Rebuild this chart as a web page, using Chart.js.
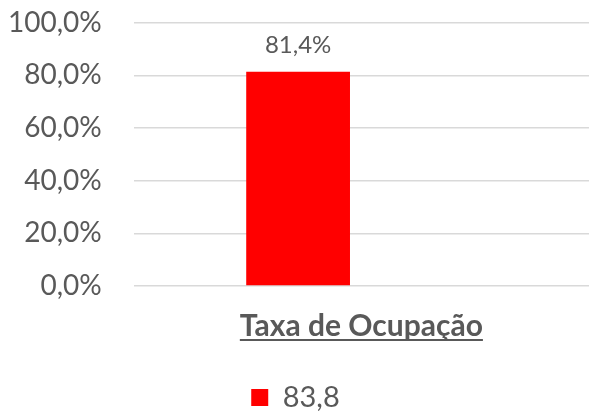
<!DOCTYPE html>
<html>
<head>
<meta charset="utf-8">
<script src="https://cdn.jsdelivr.net/npm/chart.js@4"></script>
<style>
  html, body { margin: 0; padding: 0; background: #fff; }
  #wrap { width: 589px; height: 412px; }
</style>
</head>
<body>
<div id="wrap"><canvas id="myChart"></canvas></div>
<script>
const CATEGORIES = ['Taxa de Ocupação'];
const SERIES_NAMES = ['83,8', ''];
const SERIES_VALUES = [81.4, null];
const Y_TICKS = [0, 20, 40, 60, 80, 100];

const TEXT_COLOR = '#595959';
const FONT = 'Lato, "Open Sans", sans-serif';

const fmt = v => v.toFixed(1).replace('.', ',');

// value labels above bars + underlined category label
const BAR_LABELS = {
  id: 'barLabels',
  afterDatasetsDraw(chart) {
    const { ctx } = chart;
    ctx.save();
    ctx.fillStyle = TEXT_COLOR;
    ctx.font = `24px ${FONT}`;
    ctx.textAlign = 'center';
    ctx.textBaseline = 'middle';
    chart.data.datasets.forEach((ds, i) => {
      chart.getDatasetMeta(i).data.forEach((bar, j) => {
        const v = ds.data[j];
        if (v == null) return;
        ctx.fillText(fmt(v) + '%', bar.x, bar.y - 26);
      });
    });

    // category label with underline
    const xs = chart.scales.x;
    ctx.font = `bold 30px ${FONT}`;
    ctx.textBaseline = 'alphabetic';
    CATEGORIES.forEach((c, i) => {
      const x = xs.getPixelForValue(i);
      const y = chart.chartArea.bottom + 50;
      ctx.fillText(c, x, y);
      const w = ctx.measureText(c).width;
      ctx.fillRect(x - w / 2, y + 3, w, 2);
    });
    ctx.restore();
  }
};

const CONFIG = {
  type: 'bar',
  data: {
    labels: CATEGORIES,
    datasets: [{
      label: SERIES_NAMES[0],
      data: [SERIES_VALUES[0]],
      backgroundColor: '#ff0000'
    }, {
      label: SERIES_NAMES[1],
      data: [SERIES_VALUES[1]],
      backgroundColor: '#ffffff'
    }]
  },
  options: {
    responsive: true,
    maintainAspectRatio: false,
    animation: false,
    categoryPercentage: 0.556,
    barPercentage: 0.82,
    layout: { padding: { left: 2, right: 0, top: 4, bottom: -10 } },
    plugins: {
      tooltip: { enabled: false },
      legend: {
        position: 'bottom',
        labels: {
          filter: item => item.text !== '',
          boxWidth: 17,
          boxHeight: 17,
          color: TEXT_COLOR,
          font: { family: FONT, size: 29 },
          padding: 8
        }
      }
    },
    scales: {
      y: {
        min: 0,
        max: 100,
        afterBuildTicks: axis => { axis.ticks = Y_TICKS.map(v => ({ value: v })); },
        border: { display: false },
        grid: { color: '#d9d9d9', lineWidth: 1.5, tickLength: 26, tickColor: 'rgba(0,0,0,0)' },
        ticks: {
          autoSkip: false,
          color: TEXT_COLOR,
          font: { family: FONT, size: 28 },
          padding: 6,
          callback: v => fmt(v) + '%'
        }
      },
      x: {
        border: { display: false },
        grid: { display: false },
        ticks: { display: false },
        // empty title only reserves the space where the category label is drawn
        title: {
          display: true,
          text: ' ',
          font: { size: 20 },
          padding: { top: 29, bottom: 28 }
        }
      }
    }
  },
  plugins: [BAR_LABELS]
};

const MY_CHART = new Chart(document.getElementById('myChart'), CONFIG);
</script>
</body>
</html>
